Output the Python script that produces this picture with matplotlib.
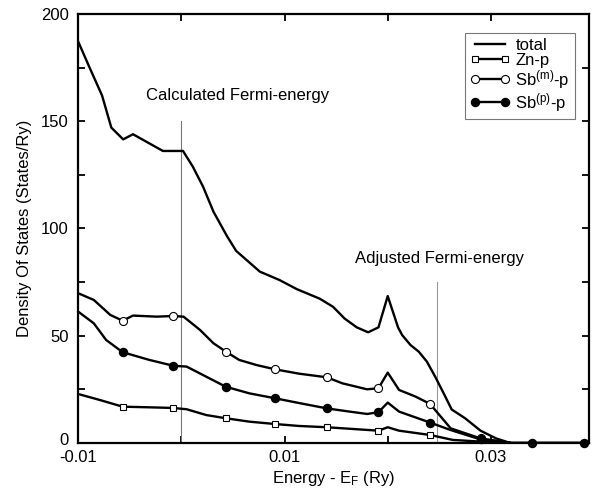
import matplotlib
matplotlib.use("Agg")
import matplotlib.pyplot as plt
import matplotlib.transforms as mtransforms
from matplotlib.ticker import MultipleLocator, FixedLocator

plt.rcParams['font.family'] = ['Liberation Sans', 'DejaVu Sans']
plt.rcParams['mathtext.default'] = 'regular'

# total DOS
total_e = [-0.0100, -0.0090, -0.0077, -0.0068, -0.00565, -0.0047, -0.0018, 0.00015,
           0.0011, 0.0021, 0.0031, 0.0044, 0.0053, 0.0076, 0.0095, 0.0112, 0.0134,
           0.0147, 0.0158, 0.0170, 0.0181, 0.0191, 0.0200, 0.0210, 0.0214, 0.0222,
           0.0230, 0.0238, 0.0246, 0.0255, 0.0262, 0.0275, 0.0290, 0.0305, 0.0318]
total_dos = [187, 176, 162, 147, 141.5, 143.9, 136.1, 136.1,
             128.8, 119.4, 107.8, 96.5, 89.5, 79.8, 75.9, 71.6, 67.2,
             63.4, 58.0, 53.8, 51.5, 53.8, 68.4, 53.8, 50.2, 45.6,
             42.5, 37.8, 30.8, 22.3, 15.5, 11.4, 5.6, 2.0, 0]

# Zn-p
zn_e = [-0.0100, -0.0079, -0.0057, -0.0031, -0.0008, 0.0005, 0.0024, 0.0043, 0.0066,
        0.0091, 0.0114, 0.0141, 0.0191, 0.0200, 0.0211, 0.0241, 0.0263, 0.0290, 0.0318]
zn_dos = [22.7, 19.9, 16.8, 16.5, 16.2, 15.6, 12.9, 11.4, 9.8,
          8.7, 7.8, 7.2, 5.6, 7.2, 5.6, 3.6, 1.3, 0.5, 0]
zn_marks = [2, 4, 7, 9, 11, 12, 15, 17]

# Sb(m)-p
sbm_e = [-0.0100, -0.0085, -0.0069, -0.0057, -0.0047, -0.0024, -0.0008, 0.0002, 0.0018,
         0.0031, 0.0043, 0.0056, 0.0073, 0.0091, 0.0114, 0.0141, 0.0156, 0.0180, 0.0191,
         0.0200, 0.0211, 0.0227, 0.0241, 0.0261, 0.0290, 0.0318]
sbm_dos = [69.7, 66.6, 59.6, 56.9, 59.3, 58.8, 59.1, 58.8, 52.6,
           46.4, 42.5, 38.6, 36.2, 34.2, 32.2, 30.5, 27.7, 24.9, 25.4,
           32.7, 24.6, 21.5, 18.1, 6.7, 2.0, 0]
sbm_marks = [3, 6, 10, 13, 15, 18, 22, 24]

# Sb(p)-p
sbp_e = [-0.0100, -0.0085, -0.0073, -0.0057, -0.0031, -0.0008, 0.0005, 0.0024, 0.0043,
         0.0066, 0.0091, 0.0114, 0.0141, 0.0163, 0.0180, 0.0191, 0.0200, 0.0211, 0.0241,
         0.0261, 0.0290, 0.0318, 0.0340, 0.0390, 0.0395]
sbp_dos = [61.1, 55.7, 47.9, 42.2, 38.6, 35.9, 35.5, 30.8, 26.1,
           23.0, 20.7, 18.5, 16.0, 14.5, 13.4, 14.2, 18.7, 14.5, 9.4,
           5.9, 1.5, 0, 0, 0, 0]
sbp_marks = [3, 5, 8, 10, 12, 15, 18, 20, 22, 23]

# Fermi energies
calc_ef = 0.0
adj_ef = 0.0248

fig = plt.figure(figsize=(5.96, 4.91), dpi=100)
ax = fig.add_axes([0.1314, 0.0984, 0.8566, 0.8731])

# marker lines
ax.plot([calc_ef, calc_ef], [0, 150], color='#777777', lw=0.8)
ax.plot([adj_ef, adj_ef], [0, 75], color='#999999', lw=0.8)

ax.plot(total_e, total_dos, color='black', lw=1.7, label='total')
ax.plot(zn_e, zn_dos, color='black', lw=1.7, marker='s', markevery=zn_marks,
        ms=4.2, mfc='white', mec='black', mew=0.8, label='Zn-p')
ax.plot(sbm_e, sbm_dos, color='black', lw=1.7, marker='o', markevery=sbm_marks,
        ms=5.8, mfc='white', mec='black', mew=0.8, label='Sb$^{(m)}$-p')
ax.plot(sbp_e, sbp_dos, color='black', lw=1.7, marker='o', markevery=sbp_marks,
        ms=5.8, mfc='black', mec='black', label='Sb$^{(p)}$-p', clip_on=False, zorder=5)

ax.text(-0.0034, 162, 'Calculated Fermi-energy', fontsize=12, va='center', ha='left')
ax.text(0.0168, 86, 'Adjusted Fermi-energy', fontsize=12, va='center', ha='left')

ax.set_xlim(-0.01, 0.0395)
ax.set_ylim(0, 200)
ax.xaxis.set_major_locator(FixedLocator([-0.01, 0.01, 0.03]))
ax.xaxis.set_minor_locator(FixedLocator([0.0, 0.02]))
ax.set_xticklabels(['-0.01', '0.01', '0.03'])
ax.yaxis.set_major_locator(MultipleLocator(50))
ax.yaxis.set_minor_locator(MultipleLocator(25))
ax.tick_params(which='both', direction='in', top=True, right=True, length=5, width=1.3,
               labelsize=12)
ax.tick_params(axis='x', pad=5.5)
ax.tick_params(axis='y', pad=7)
for s in ax.spines.values():
    s.set_linewidth(1.6)

ax.set_xlabel('Energy - E$_F$ (Ry)', fontsize=12, labelpad=3)
ax.set_ylabel('Density Of States (States/Ry)', fontsize=12, labelpad=6)

leg = ax.legend(loc='upper right', bbox_to_anchor=(0.9726, 0.9557), borderaxespad=0,
                fontsize=12, handlelength=2.4, numpoints=2, labelspacing=0.0,
                handletextpad=0.3, borderpad=0.3, fancybox=False, framealpha=1)
leg.get_frame().set_edgecolor('#777777')
leg.get_frame().set_linewidth(0.8)

# lift the "0" label a touch so it clears "-0.01"
fig.canvas.draw()
for lbl in ax.get_yticklabels():
    if lbl.get_text() == '0':
        lbl.set_transform(lbl.get_transform() +
                          mtransforms.ScaledTranslation(0, 3 / 72, fig.dpi_scale_trans))

fig.savefig('out.png', dpi=100)
